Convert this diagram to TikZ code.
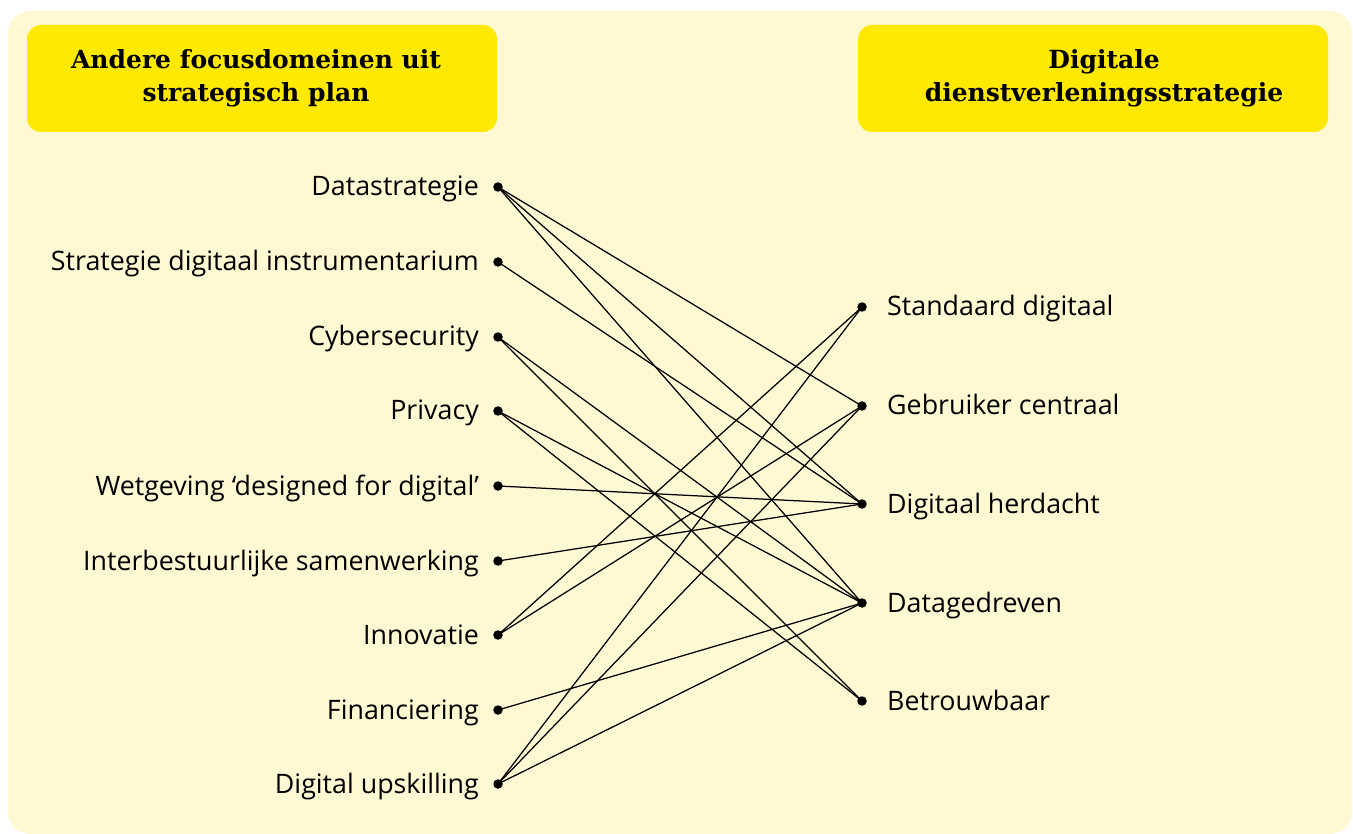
\documentclass[tikz,border=0pt]{standalone}
\usepackage{fontspec}
\setmainfont{Open Sans}
\newfontfamily\headfont{DejaVu Serif}
\definecolor{bgyellow}{HTML}{FFF9D3}
\definecolor{boxyellow}{HTML}{FFE900}
\begin{document}
\begin{tikzpicture}[x=1pt,y=-1pt,
  dot/.style={circle,fill=black,inner sep=0pt,minimum size=9.5pt},
  lefttext/.style={anchor=base east,inner sep=0pt,font=\fontsize{26.8}{32}\selectfont},
  righttext/.style={anchor=base west,inner sep=0pt,font=\fontsize{26.8}{32}\selectfont},
  headbox/.style={fill=boxyellow,rounded corners=14pt},
  headtext/.style={align=center,inner sep=0pt,font=\headfont\bfseries\fontsize{25}{33}\selectfont},
  link/.style={line width=1.25pt}]
\useasboundingbox (0,0) rectangle (1353,834);
\fill[bgyellow,rounded corners=22pt] (8,11) rectangle (1352,834);
\fill[headbox] (27,25) rectangle (497,132);
\fill[headbox] (858,25) rectangle (1328,132);
\node[headtext] (hl) at (256,78) {Andere focusdomeinen uit\\strategisch plan};
\node[headtext] (hr) at (1104,78) {Digitale\\dienstverleningsstrategie};
% left dots
\foreach \i/\y/\t in {1/187/Datastrategie,2/262/Strategie digitaal instrumentarium,3/337/Cybersecurity,4/411/Privacy,5/486/Wetgeving ‘designed for digital’,6/561/Interbestuurlijke samenwerking,7/635/Innovatie,8/710/Financiering,9/784/Digital upskilling}{
  \node[dot] (L\i) at (498,\y) {};
  \node[lefttext] (LT\i) at (479,\y+9) {\t};
}
\foreach \i/\y/\t in {1/307/Standaard digitaal,2/406/Gebruiker centraal,3/504/Digitaal herdacht,4/603/Datagedreven,5/701/Betrouwbaar}{
  \node[dot] (R\i) at (862,\y) {};
  \node[righttext] (RT\i) at (887,\y+9) {\t};
}
\foreach \a/\b in {1/2,1/3,1/4,2/3,3/4,3/5,4/4,4/5,5/3,6/3,7/1,7/2,8/4,9/1,9/2,9/4}{
  \draw[link] (L\a.center) -- (R\b.center);
}
\end{tikzpicture}
\end{document}
